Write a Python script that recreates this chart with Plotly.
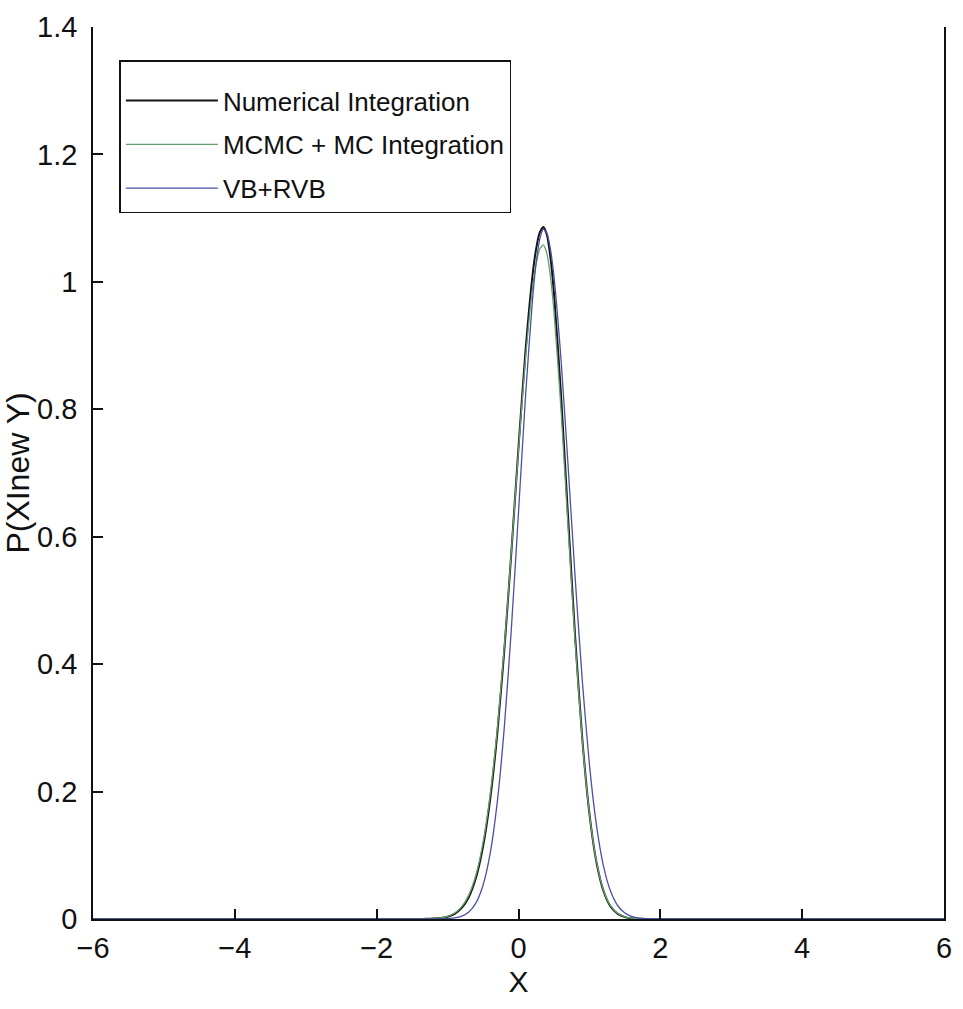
import plotly.graph_objects as go

# x positions (shared by all three series)
x_vals = [-6, -3, -2, -1.6, -1.4, -1.3, -1.2, -1.1, -1.0, -0.9, -0.8, -0.7, -0.6, -0.5,
          -0.4, -0.3, -0.2, -0.1, 0.0, 0.1, 0.2, 0.25, 0.3, 0.35, 0.4, 0.45, 0.5, 0.6,
          0.7, 0.8, 0.9, 1.0, 1.1, 1.2, 1.3, 1.4, 1.5, 1.6, 1.7, 1.8, 2.0, 2.4, 3, 6]

numerical = [0, 0, 0, 0.0000, 0.0001, 0.0002, 0.0006, 0.0015, 0.0036, 0.0082, 0.0174, 0.0346,
             0.0647, 0.1136, 0.1872, 0.2901, 0.4220, 0.5768, 0.7405, 0.8933, 1.0123, 1.0526,
             1.0775, 1.0860, 1.0740, 1.0387, 0.9824, 0.8221, 0.6292, 0.4406, 0.2822, 0.1653,
             0.0886, 0.0434, 0.0195, 0.0080, 0.0030, 0.0010, 0.0003, 0.0001, 0, 0, 0, 0]

mcmc = [0, 0, 0, 0.0000, 0.0001, 0.0003, 0.0007, 0.0018, 0.0043, 0.0094, 0.0194, 0.0379,
        0.0695, 0.1200, 0.1949, 0.2977, 0.4278, 0.5785, 0.7361, 0.8811, 0.9923, 1.0293,
        1.0515, 1.0580, 1.0443, 1.0087, 0.9536, 0.7986, 0.6134, 0.4321, 0.2792, 0.1654,
        0.0899, 0.0448, 0.0205, 0.0086, 0.0033, 0.0012, 0.0004, 0.0001, 0, 0, 0, 0]

vb_rvb = [0, 0, 0, 0, 0, 0, 0, 0, 0.0006, 0.0017, 0.0045, 0.0110,
          0.0252, 0.0529, 0.1025, 0.1830, 0.3011, 0.4566, 0.6381, 0.8219, 0.9755, 1.0308,
          1.0672, 1.0826, 1.0767, 1.0514, 1.0082, 0.8775, 0.7100, 0.5340, 0.3733, 0.2426,
          0.1466, 0.0823, 0.0430, 0.0208, 0.0094, 0.0039, 0.0015, 0.0006, 0.0001, 0, 0, 0]

series_names = ["Numerical Integration", "MCMC + MC Integration", "VB+RVB"]
x_ticks = [-6, -4, -2, 0, 2, 4, 6]
y_ticks = [0, 0.2, 0.4, 0.6, 0.8, 1.0, 1.2, 1.4]
y_tick_text = ["0", "0.2", "0.4", "0.6", "0.8", "1", "1.2", "1.4"]

colors = ["#151515", "#62a06c", "#4a50a4"]
widths = [2.0, 1.3, 1.3]

fig = go.Figure()
for name, ys, c, w in zip(series_names, [numerical, mcmc, vb_rvb], colors, widths):
    fig.add_trace(go.Scatter(x=x_vals, y=ys, mode="lines", name=name,
                             line=dict(color=c, width=w, shape="spline", smoothing=0.6),
                             legendgroup=name))

tick_font = dict(family="Liberation Sans, Arial", size=29, color="#111")

fig.update_layout(
    width=963, height=1009,
    margin=dict(l=93, r=11, t=21, b=90),
    paper_bgcolor="white", plot_bgcolor="white",
    showlegend=True,
    legend=dict(x=0.031, y=0.963, xanchor="left", yanchor="top",
                bgcolor="white", bordercolor="#111", borderwidth=1.5,
                font=dict(family="Liberation Sans, Arial", size=26, color="#111"),
                title=dict(text=" ", font=dict(size=12)),
                itemwidth=92, tracegroupgap=7),
    font=dict(family="Liberation Sans, Arial", color="#111"),
)
fig.update_xaxes(range=[-6, 6], tickvals=x_ticks, ticks="inside", ticklen=10,
                 tickcolor="#111", tickwidth=1.5, showline=True, linecolor="#111",
                 linewidth=1.5, mirror=False, showgrid=False, zeroline=False,
                 tickfont=tick_font, ticklabelstandoff=2,
                 title=dict(text="X", font=dict(family="Liberation Sans, Arial", size=30, color="#111"), standoff=8))
fig.update_yaxes(range=[0, 1.4], tickvals=y_ticks, ticktext=y_tick_text, ticks="inside",
                 ticklen=10, tickcolor="#111", tickwidth=1.5, showline=True,
                 linecolor="#111", linewidth=1.5, mirror=True, showgrid=False,
                 zeroline=False, tickfont=tick_font, ticklabelstandoff=8,
                 title=dict(text="P(XInew Y)", font=dict(family="Liberation Sans, Arial", size=32, color="#111"), standoff=0))

fig.write_html("out.html")
